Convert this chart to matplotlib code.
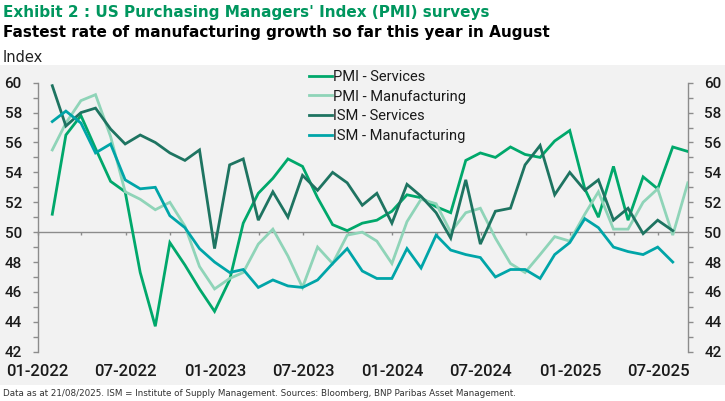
import matplotlib
matplotlib.use("Agg")
import matplotlib.pyplot as plt
import matplotlib.dates as mdates
from matplotlib.patches import Rectangle
from matplotlib import font_manager
import pandas as pd

# ---------------- data ----------------
months_pmi = pd.date_range("2022-01-31", periods=44, freq="ME")
months_ism = months_pmi[:43]

pmi_services = [51.2, 56.5, 57.8, 55.6, 53.4, 52.7, 47.3, 43.7, 49.3, 47.8, 46.2, 44.7,
                46.8, 50.6, 52.6, 53.6, 54.9, 54.4, 52.3, 50.5, 50.1, 50.6, 50.8, 51.4,
                52.5, 52.3, 51.7, 51.3, 54.8, 55.3, 55.0, 55.7, 55.2, 55.0, 56.1, 56.8,
                52.9, 51.0, 54.4, 50.8, 53.7, 52.9, 55.7, 55.4]
pmi_manufacturing = [55.5, 57.3, 58.8, 59.2, 56.4, 52.7, 52.2, 51.5, 52.0, 50.4, 47.7, 46.2,
                     46.9, 47.3, 49.2, 50.2, 48.4, 46.3, 49.0, 47.9, 49.8, 50.0, 49.4, 47.9,
                     50.7, 52.2, 51.9, 50.0, 51.3, 51.6, 49.6, 47.9, 47.3, 48.5, 49.7, 49.4,
                     51.2, 52.7, 50.2, 50.2, 52.0, 52.9, 49.8, 53.3]
ism_services = [59.8, 57.1, 58.0, 58.3, 56.9, 55.9, 56.5, 56.0, 55.3, 54.8, 55.5, 48.9,
                54.5, 54.9, 50.8, 52.7, 51.0, 53.8, 52.8, 54.0, 53.3, 51.8, 52.6, 50.6,
                53.2, 52.4, 51.3, 49.6, 53.5, 49.2, 51.4, 51.6, 54.5, 55.8, 52.5, 54.0,
                52.8, 53.5, 50.8, 51.6, 49.9, 50.8, 50.1]
ism_manufacturing = [57.4, 58.1, 57.3, 55.3, 55.9, 53.5, 52.9, 53.0, 51.1, 50.3, 48.9, 48.0,
                     47.3, 47.5, 46.3, 46.8, 46.4, 46.3, 46.8, 47.9, 48.9, 47.4, 46.9, 46.9,
                     48.9, 47.6, 49.8, 48.8, 48.5, 48.3, 47.0, 47.5, 47.5, 46.9, 48.5, 49.3,
                     50.9, 50.3, 49.0, 48.7, 48.5, 49.0, 48.0]

series_names = ["PMI - Services", "PMI - Manufacturing", "ISM - Services", "ISM - Manufacturing"]
y_ticks = list(range(42, 61, 2))

title = "Exhibit 2 : US Purchasing Managers' Index (PMI) surveys"
subtitle = "Fastest rate of manufacturing growth so far this year in August"
unit_label = "Index"
footer = ("Data as at 21/08/2025. ISM = Institute of Supply Management. "
          "Sources: Bloomberg, BNP Paribas Asset Management.")

# ---------------- fonts ----------------
installed = {f.name for f in font_manager.fontManager.ttflist}
head = "DejaVu Sans"
body = "Roboto" if "Roboto" in installed else "DejaVu Sans"

colors = ["#00a86b", "#8fd4b8", "#1e7461", "#00a5a8"]

W, H = 725, 401
fig = plt.figure(figsize=(W / 100, H / 100), dpi=100)
fig.patches.append(Rectangle((0, 1 - 385 / H), 1, (385 - 65) / H,
                             transform=fig.transFigure, facecolor="#f2f2f2",
                             edgecolor="none", zorder=-10))

ax = fig.add_axes([37.7 / W, 1 - 351.7 / H, (688.3 - 37.7) / W, (351.7 - 82.7) / H])
ax.set_facecolor("none")
ax.set_zorder(2)

xs = [months_pmi, months_pmi, months_ism, months_ism]
ys = [pmi_services, pmi_manufacturing, ism_services, ism_manufacturing]
lines = []
for x, y, c, n in zip(xs, ys, colors, series_names):
    ln, = ax.plot(x, y, color=c, lw=2.0, label=n, solid_joinstyle="miter", zorder=3)
    lines.append(ln)

ax.set_ylim(42, 60)
ax.set_xlim(pd.Timestamp("2022-01-01"), pd.Timestamp("2025-09-01"))

# spines
grey = "#8c8c8c"
ax.spines["top"].set_visible(False)
for s in ["left", "right", "bottom"]:
    ax.spines[s].set_color(grey)
    ax.spines[s].set_linewidth(1.0)
ax.spines["bottom"].set_position(("data", 50))

# y ticks both sides
ax.set_yticks(y_ticks)
ax.set_yticks(range(42, 61), minor=True)
ax.yaxis.set_ticks_position("both")
ax.tick_params(axis="y", which="both", direction="out", length=3.4, width=1, color=grey,
               labelleft=True, labelright=True, pad=8)
for lab in ax.get_yticklabels():
    lab.set_fontfamily(body)
    lab.set_fontsize(11)
    lab.set_fontweight("medium")
    lab.set_color("#1a1a1a")

# x ticks at quarter starts on the 50 line
qticks = pd.date_range("2022-01-01", "2025-07-01", freq="QS")
ax.set_xticks(qticks)
ax.tick_params(axis="x", which="both", direction="out", length=2, width=1, color=grey,
               labelbottom=False)
xtrans = ax.get_xaxis_transform()
for t in qticks:
    if t.month in (1, 7):
        ax.text(mdates.date2num(t), -0.074, t.strftime("%m-%Y"), transform=xtrans,
                ha="center", va="center", fontsize=12, fontfamily=body,
                fontweight="medium", color="#1a1a1a")

# legend
leg = fig.legend(handles=lines, loc="upper left", bbox_to_anchor=(309 / W, 1 - 70 / H),
                 bbox_transform=fig.transFigure, frameon=False, borderpad=0,
                 borderaxespad=0, handlelength=1.55, handletextpad=0.12,
                 labelspacing=0.38, prop={"family": body, "size": 10.5})
for t in leg.get_texts():
    t.set_color("#1a1a1a")

# titles
fig.text(3 / W, 1 - 12 / H, title, fontsize=11, fontweight="bold", family=head,
         color="#00965e", va="center", ha="left")
fig.text(3 / W, 1 - 32 / H, subtitle, fontsize=11, fontweight="bold", family=head,
         color="#000000", va="center", ha="left")
fig.text(3 / W, 1 - 57 / H, unit_label, fontsize=10.5, family=head,
         color="#222222", va="center", ha="left")
fig.text(3 / W, 1 - 394 / H, footer, fontsize=6.3, family=head,
         color="#333333", va="center", ha="left")

fig.savefig("out.png", dpi=100)
